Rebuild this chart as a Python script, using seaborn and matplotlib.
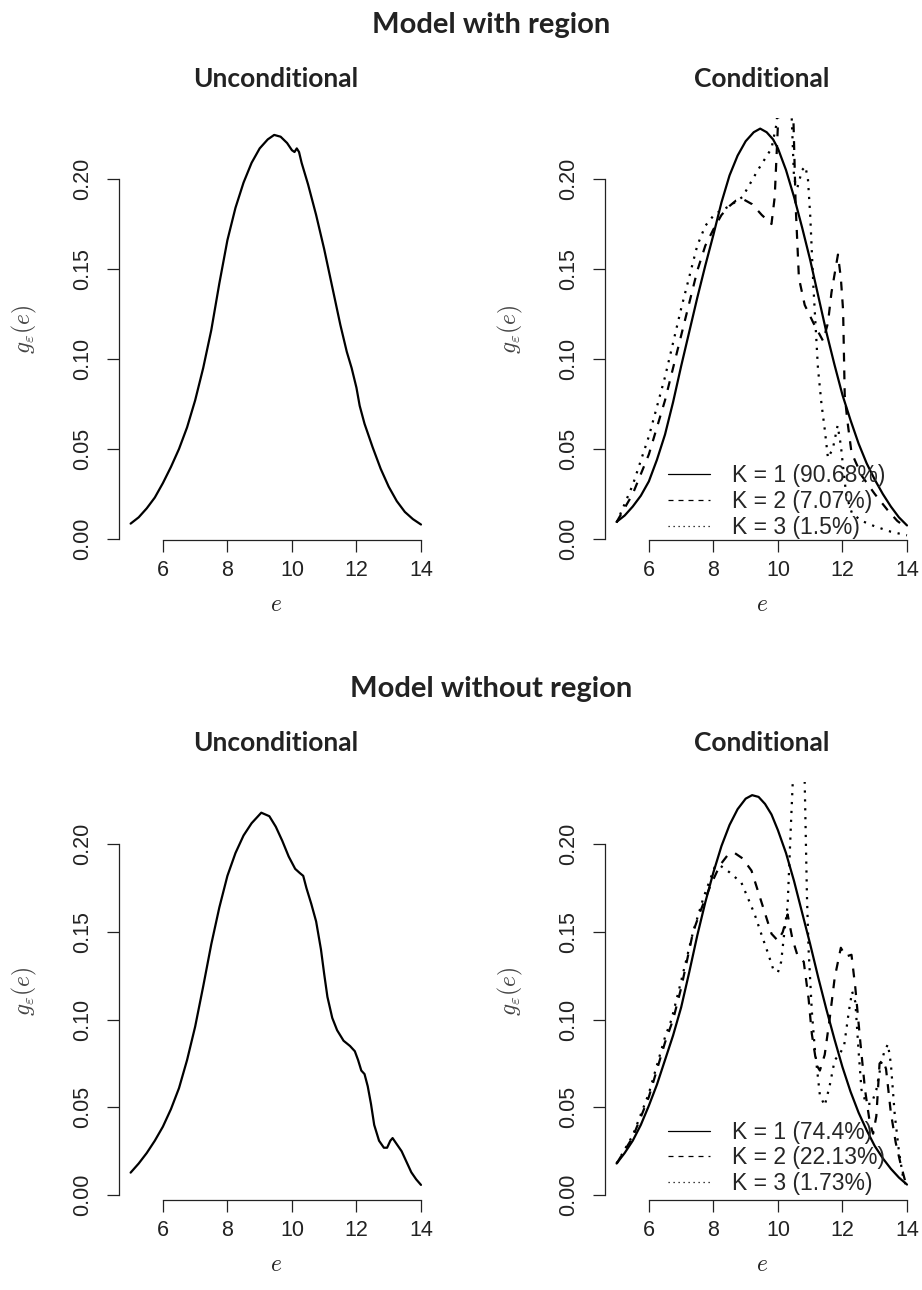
import matplotlib
matplotlib.use("Agg")
import matplotlib.pyplot as plt
import seaborn as sns
import numpy as np
import pandas as pd
from matplotlib.lines import Line2D

# ---------------- data ----------------
# Model with region: unconditional density
wr_unc_x = [5.0, 5.25, 5.5, 5.75, 6.0, 6.25, 6.5, 6.75, 7.0, 7.25, 7.5, 7.75, 8.0, 8.25, 8.5,
            8.75, 9.0, 9.25, 9.45, 9.65, 9.85, 10.0, 10.08, 10.15, 10.22, 10.3, 10.4, 10.5,
            10.75, 11.0, 11.25, 11.5, 11.7, 11.85, 12.0, 12.1, 12.25, 12.5, 12.75, 13.0, 13.25,
            13.5, 13.75, 14.0]
wr_unc_y = [0.0085, 0.012, 0.017, 0.023, 0.031, 0.040, 0.050, 0.062, 0.077, 0.095, 0.116, 0.142,
            0.166, 0.184, 0.198, 0.209, 0.217, 0.222, 0.2245, 0.2235, 0.220, 0.216, 0.215, 0.217,
            0.215, 0.209, 0.203, 0.197, 0.180, 0.161, 0.140, 0.119, 0.104, 0.095, 0.084, 0.074,
            0.064, 0.051, 0.039, 0.029, 0.021, 0.015, 0.011, 0.008]

# Model with region: conditional densities
wr_k1_x = [5.0, 5.25, 5.5, 5.75, 6.0, 6.25, 6.5, 6.75, 7.0, 7.25, 7.5, 7.75, 8.0, 8.25, 8.5,
           8.75, 9.0, 9.25, 9.45, 9.65, 9.85, 10.0, 10.25, 10.5, 10.75, 11.0, 11.25, 11.5, 11.75,
           12.0, 12.25, 12.5, 12.75, 13.0, 13.25, 13.5, 13.75, 14.0]
wr_k1_y = [0.0095, 0.013, 0.018, 0.024, 0.032, 0.044, 0.058, 0.076, 0.096, 0.115, 0.134, 0.152,
           0.169, 0.187, 0.202, 0.213, 0.221, 0.226, 0.228, 0.226, 0.222, 0.217, 0.205, 0.190,
           0.173, 0.155, 0.135, 0.115, 0.097, 0.080, 0.066, 0.053, 0.042, 0.033, 0.025, 0.018,
           0.012, 0.0075]

wr_k2_x = [5.0, 5.5, 6.0, 6.5, 7.0, 7.5, 7.75, 8.0, 8.25, 8.5, 8.7, 8.9, 9.2, 9.5, 9.8, 9.9,
           10.0, 10.05, 10.1, 10.25, 10.4, 10.47, 10.55, 10.65, 10.83, 11.1, 11.4, 11.55, 11.66,
           11.86, 11.95, 12.02, 12.07, 12.15, 12.28, 12.6, 13.0, 13.4, 13.7, 14.0]
wr_k2_y = [0.0094, 0.025, 0.047, 0.077, 0.113, 0.149, 0.163, 0.172, 0.180, 0.185, 0.188, 0.189,
           0.186, 0.180, 0.175, 0.190, 0.230, 0.260, 0.290, 0.320, 0.290, 0.240, 0.185, 0.145,
           0.130, 0.120, 0.110, 0.120, 0.137, 0.158, 0.145, 0.127, 0.080, 0.066, 0.048, 0.035,
           0.025, 0.016, 0.010, 0.006]

wr_k3_x = [5.0, 5.5, 6.0, 6.5, 7.0, 7.5, 7.75, 8.04, 8.5, 8.9, 9.38, 9.8, 9.95, 10.05, 10.2,
           10.35, 10.5, 10.6, 10.75, 10.85, 10.93, 11.0, 11.1, 11.24, 11.35, 11.45, 11.55, 11.7,
           11.85, 11.95, 12.02, 12.12, 12.3, 12.6, 13.0, 13.5, 14.0]
wr_k3_y = [0.009, 0.030, 0.057, 0.090, 0.128, 0.163, 0.174, 0.1805, 0.185, 0.190, 0.205, 0.217,
           0.230, 0.250, 0.300, 0.270, 0.200, 0.195, 0.205, 0.207, 0.200, 0.180, 0.140, 0.095,
           0.075, 0.061, 0.045, 0.050, 0.063, 0.052, 0.040, 0.024, 0.014, 0.010, 0.007, 0.004,
           0.002]

# Model without region: unconditional density
wo_unc_x = [5.0, 5.25, 5.5, 5.75, 6.0, 6.25, 6.5, 6.75, 7.0, 7.25, 7.5, 7.75, 8.0, 8.25, 8.5,
            8.75, 9.05, 9.3, 9.5, 9.7, 9.9, 10.1, 10.25, 10.35, 10.45, 10.6, 10.75, 10.9, 11.0,
            11.1, 11.25, 11.4, 11.6, 11.8, 11.95, 12.05, 12.15, 12.25, 12.35, 12.45, 12.55,
            12.7, 12.85, 12.95, 13.05, 13.12, 13.25, 13.4, 13.5, 13.7, 13.85, 14.0]
wo_unc_y = [0.0128, 0.018, 0.024, 0.031, 0.039, 0.049, 0.061, 0.077, 0.096, 0.119, 0.143, 0.164,
            0.182, 0.195, 0.205, 0.212, 0.218, 0.216, 0.210, 0.202, 0.193, 0.186, 0.1835, 0.182,
            0.175, 0.166, 0.156, 0.140, 0.126, 0.113, 0.101, 0.094, 0.088, 0.085, 0.082, 0.077,
            0.071, 0.069, 0.062, 0.052, 0.040, 0.031, 0.027, 0.027, 0.031, 0.0325, 0.029, 0.025,
            0.021, 0.013, 0.009, 0.0058]

# Model without region: conditional densities
wo_k1_x = [5.0, 5.25, 5.5, 5.75, 6.0, 6.25, 6.5, 6.75, 7.0, 7.25, 7.5, 7.75, 8.0, 8.25, 8.5,
           8.75, 9.0, 9.2, 9.4, 9.6, 9.8, 10.0, 10.25, 10.5, 10.75, 11.0, 11.25, 11.5, 11.75,
           12.0, 12.25, 12.5, 12.75, 13.0, 13.25, 13.5, 13.75, 14.0]
wo_k1_y = [0.018, 0.024, 0.031, 0.040, 0.051, 0.063, 0.077, 0.091, 0.107, 0.127, 0.148, 0.167,
           0.184, 0.199, 0.211, 0.220, 0.226, 0.228, 0.227, 0.223, 0.217, 0.208, 0.195, 0.179,
           0.161, 0.143, 0.124, 0.106, 0.089, 0.073, 0.059, 0.047, 0.037, 0.028, 0.021, 0.015,
           0.010, 0.006]

wo_k2_x = [5.0, 5.5, 6.0, 6.5, 6.75, 7.0, 7.37, 7.6, 7.9, 8.2, 8.45, 8.66, 8.9, 9.18, 9.49, 9.8,
           10.0, 10.15, 10.3, 10.45, 10.6, 10.8, 10.95, 11.05, 11.2, 11.3, 11.45, 11.6, 11.76,
           11.95, 12.1, 12.28, 12.4, 12.55, 12.7, 12.85, 12.95, 13.05, 13.15, 13.25, 13.35,
           13.5, 13.65, 13.8, 14.0]
wo_k2_y = [0.018, 0.033, 0.056, 0.087, 0.100, 0.118, 0.150, 0.162, 0.176, 0.188, 0.194, 0.195,
           0.192, 0.185, 0.167, 0.149, 0.145, 0.150, 0.160, 0.146, 0.137, 0.133, 0.112, 0.092,
           0.074, 0.071, 0.080, 0.100, 0.124, 0.141, 0.136, 0.137, 0.118, 0.088, 0.060, 0.041,
           0.035, 0.045, 0.075, 0.077, 0.072, 0.047, 0.030, 0.018, 0.004]

wo_k3_x = [5.0, 5.5, 6.0, 6.5, 6.7, 7.0, 7.37, 7.7, 8.04, 8.2, 8.5, 8.87, 9.1, 9.28, 9.5, 9.69,
           9.85, 10.0, 10.1, 10.2, 10.3, 10.4, 10.47, 10.55, 10.65, 10.75, 10.83, 10.9, 10.95,
           11.05, 11.14, 11.3, 11.45, 11.6, 11.76, 11.9, 12.05, 12.2, 12.3, 12.4, 12.5, 12.59,
           12.74, 12.9, 13.05, 13.2, 13.3, 13.41, 13.5, 13.62, 13.75, 13.88, 14.0]
wo_k3_y = [0.018, 0.034, 0.058, 0.090, 0.100, 0.122, 0.150, 0.170, 0.187, 0.188, 0.184, 0.178,
           0.168, 0.160, 0.148, 0.138, 0.129, 0.127, 0.133, 0.150, 0.165, 0.210, 0.240, 0.270,
           0.290, 0.270, 0.235, 0.170, 0.140, 0.105, 0.084, 0.057, 0.051, 0.062, 0.077, 0.080,
           0.085, 0.105, 0.116, 0.110, 0.082, 0.060, 0.052, 0.052, 0.060, 0.075, 0.082, 0.086,
           0.075, 0.046, 0.025, 0.010, 0.004]

rows = ["Model with region", "Model without region"]
wr_labels = ["K = 1 (90.68%)", "K = 2 (7.07%)", "K = 3 (1.5%)"]
wo_labels = ["K = 1 (74.4%)", "K = 2 (22.13%)", "K = 3 (1.73%)"]
x_ticks = [6, 8, 10, 12, 14]
y_ticks = [0.00, 0.05, 0.10, 0.15, 0.20]

# ---------------- style ----------------
sns.set_theme(style="white")
plt.rcParams["font.family"] = ["Liberation Sans", "DejaVu Sans"]
plt.rcParams["mathtext.fontset"] = "cm"
INK = "#222222"
styles = ["-", (0, (4, 4)), (0, (1, 3))]

W, H = 922, 1290
fig = plt.figure(figsize=(W / 100, H / 100), dpi=100)
fig.patch.set_facecolor("white")

PW = 313.6
row_bottom = [540, 1200]
row_height = [422.0, 418.0]
row_ylim = [(-0.0006, 0.2339), (-0.0028, 0.2355)]


def make_ax(left_px, bottom_px, h):
    return fig.add_axes([left_px / W, 1 - bottom_px / H, PW / W, h / H])


def style_ax(ax, ylim):
    ax.set_facecolor("white")
    ax.set_xlim(4.64, 14.36)
    ax.set_ylim(*ylim)
    ax.grid(False)
    for s in ["top", "right"]:
        ax.spines[s].set_visible(False)
    for s in ["left", "bottom"]:
        ax.spines[s].set_color(INK)
        ax.spines[s].set_linewidth(0.9)
    ax.spines["left"].set_bounds(0, 0.2)
    ax.spines["bottom"].set_bounds(6, 14)
    ax.set_xticks(x_ticks)
    ax.set_yticks(y_ticks)
    ax.set_yticklabels([f"{v:.2f}" for v in y_ticks])
    ax.tick_params(axis="both", direction="out", length=8.6, width=0.9, colors=INK,
                   labelsize=15.5, left=True, bottom=True)
    ax.tick_params(axis="x", pad=6)
    ax.tick_params(axis="y", pad=10)
    for lab in ax.get_yticklabels():
        lab.set_rotation(90)
        lab.set_va("center")
    ax.set_xlabel(r"$e$", fontsize=17, color=INK)
    ax.set_ylabel(r"$g_{\varepsilon}(e)$", fontsize=17, color="#444444")
    ax.xaxis.set_label_coords(0.5, -0.128)
    ax.yaxis.set_label_coords(-0.255, 0.5)


panels = [
    (wr_unc_x, wr_unc_y, [(wr_k1_x, wr_k1_y), (wr_k2_x, wr_k2_y), (wr_k3_x, wr_k3_y)], wr_labels),
    (wo_unc_x, wo_unc_y, [(wo_k1_x, wo_k1_y), (wo_k2_x, wo_k2_y), (wo_k3_x, wo_k3_y)], wo_labels),
]

for r, (ux, uy, comps, labels) in enumerate(panels):
    ylim = row_ylim[r]
    h = row_height[r]

    ax_u = make_ax(119, row_bottom[r], h)
    sns.lineplot(x=ux, y=uy, ax=ax_u, color="black", linewidth=1.6, sort=False)
    style_ax(ax_u, ylim)

    ax_c = make_ax(605, row_bottom[r], h)
    handles = []
    for (cx, cy), ls in zip(comps, styles):
        sns.lineplot(x=cx, y=cy, ax=ax_c, color="black", linewidth=1.6, linestyle=ls, sort=False)
        handles.append(Line2D([], [], color="black", linewidth=0.9, linestyle=ls))
    style_ax(ax_c, ylim)
    yfrac = (0 - ylim[0]) / (ylim[1] - ylim[0])
    ax_c.legend(handles, labels, loc="lower left", bbox_to_anchor=(0.2, yfrac),
                frameon=False, fontsize=16.5, handlelength=1.85, handletextpad=0.95,
                labelspacing=0.12, borderpad=0, borderaxespad=0)

    top = row_bottom[r] - h
    fig.text(276 / W, 1 - (top - 39) / H, "Unconditional", ha="center", va="center",
             fontsize=19, fontweight="bold", family="Lato", color=INK)
    fig.text(762 / W, 1 - (top - 39) / H, "Conditional", ha="center", va="center",
             fontsize=19, fontweight="bold", family="Lato", color=INK)
    fig.text(491 / W, 1 - (top - 93) / H, rows[r], ha="center", va="center",
             fontsize=21, fontweight="bold", family="Lato", color=INK)

fig.savefig("out.png", dpi=100, facecolor="white")
